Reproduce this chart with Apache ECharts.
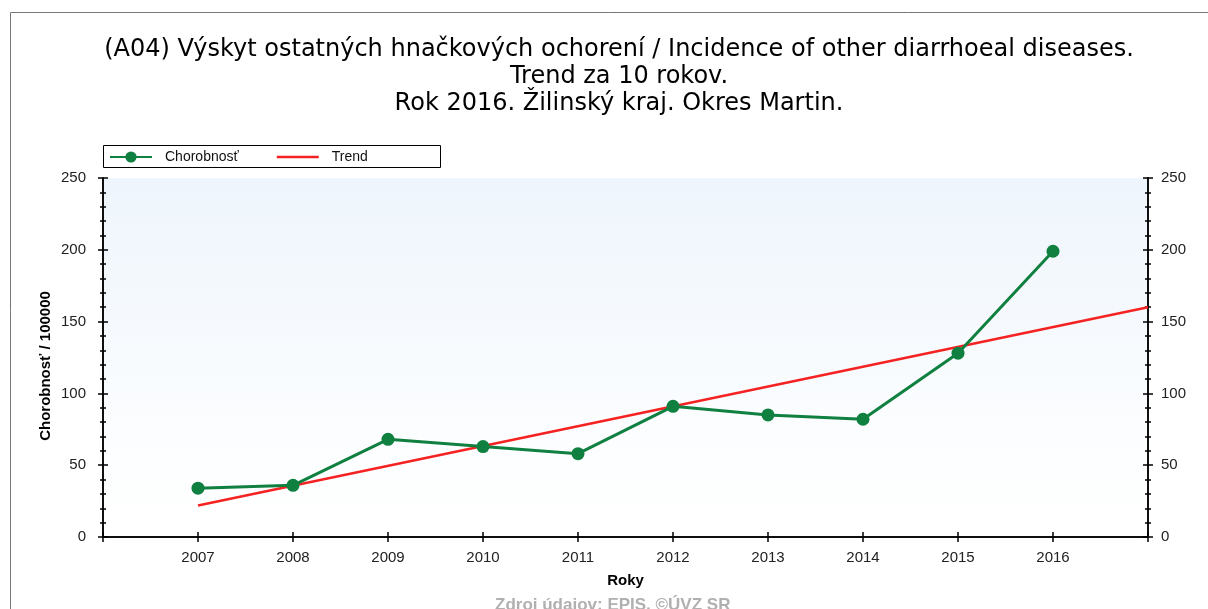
<!DOCTYPE html>
<html>
<head>
<meta charset="utf-8">
<title>A04 Okres Martin</title>
<script src="https://cdn.jsdelivr.net/npm/echarts@6/dist/echarts.min.js"></script>
<style>
  html, body { margin: 0; padding: 0; background: #fff; }
  #chart { width: 1208px; height: 609px; }
</style>
</head>
<body>
<div id="chart"></div>
<script>
// data
var years = [2007, 2008, 2009, 2010, 2011, 2012, 2013, 2014, 2015, 2016];
var chorobnost = [34, 36, 68, 63, 58, 91, 85, 82, 128, 199];
var trendYears = [2007, 2017];
var trendValues = [22, 160];
var yTicks = [0, 50, 100, 150, 200, 250];

var titleLines = [
  '(A04) Výskyt ostatných hnačkových ochorení / Incidence of other diarrhoeal diseases.',
  'Trend za 10 rokov.',
  'Rok 2016. Žilinský kraj. Okres Martin.'
];

var font = 'Arial, "Liberation Sans", sans-serif';
var green = '#0f8040';
var red = '#f52222';

var pairs = function(xs, ys) {
  return xs.map(function(x, i) { return [x, ys[i]]; });
};

var yearLabel = function(v) {
  return (v >= years[0] && v <= years[years.length - 1]) ? String(v) : '';
};

var yAxisBase = function(pos, inside, showLabel) {
  return {
    type: 'value',
    position: pos,
    min: yTicks[0],
    max: yTicks[yTicks.length - 1],
    interval: 50,
    axisLine: { show: true, lineStyle: { color: '#000', width: 1.5 } },
    axisTick: { show: true, inside: inside, length: 5, lineStyle: { color: '#000', width: 1.5 } },
    minorTick: { show: true, splitNumber: 5, length: 3, lineStyle: { color: '#000', width: 1.5 } },
    splitLine: { show: false },
    axisLabel: {
      show: showLabel,
      color: '#222',
      fontFamily: font,
      fontSize: 15,
      margin: pos === 'left' ? 17 : 13,
      align: pos === 'left' ? 'right' : 'left'
    }
  };
};

var chart = echarts.init(document.getElementById('chart'));

var option = {
  backgroundColor: '#fff',
  animation: false,
  title: {
    text: titleLines.join('\n'),
    left: 614,
    textAlign: 'center',
    top: 31,
    textStyle: {
      fontFamily: '"DejaVu Sans", sans-serif',
      fontSize: 24,
      fontWeight: 'normal',
      color: '#000',
      lineHeight: 27
    }
  },
  legend: {
    left: 104,
    top: 145,
    itemWidth: 42,
    itemHeight: 14,
    itemGap: 38,
    data: [
      'Chorobnosť',
      { name: 'Trend', icon: 'path://M0,0L42,0L42,2.5L0,2.5Z' }
    ],
    textStyle: { fontFamily: font, fontSize: 14, color: '#111', padding: [0, 0, 0, 8] }
  },
  grid: {
    left: 103,
    right: 60,
    top: 178,
    bottom: 72,
    show: true,
    borderWidth: 0,
    backgroundColor: new echarts.graphic.LinearGradient(0, 0, 0, 1, [
      { offset: 0, color: '#eef5fc' },
      { offset: 0.8, color: '#fdfeff' },
      { offset: 1, color: '#ffffff' }
    ])
  },
  xAxis: [
    {
      type: 'value',
      position: 'bottom',
      min: 2006,
      max: 2017,
      interval: 1,
      name: 'Roky',
      nameLocation: 'middle',
      nameGap: 36,
      nameTextStyle: { fontFamily: font, fontSize: 15, fontWeight: 'bold', color: '#000' },
      axisLine: { show: true, lineStyle: { color: '#000', width: 1.5 } },
      axisTick: { show: true, length: 5, lineStyle: { color: '#000', width: 1.5 } },
      splitLine: { show: false },
      axisLabel: { formatter: yearLabel, color: '#222', fontFamily: font, fontSize: 15, margin: 13 }
    },
    {
      type: 'value',
      position: 'bottom',
      min: 2006,
      max: 2017,
      interval: 1,
      axisLine: { show: false },
      axisTick: { show: true, inside: true, length: 5, lineStyle: { color: '#000', width: 1.5 } },
      splitLine: { show: false },
      axisLabel: { show: false }
    },
    {
      type: 'value',
      position: 'top',
      min: 2006,
      max: 2017,
      interval: 1,
      axisLine: { show: true, lineStyle: { color: '#000', width: 1.5 } },
      axisTick: { show: true, inside: true, length: 5, lineStyle: { color: '#000', width: 1.5 } },
      splitLine: { show: false },
      axisLabel: { show: false }
    }
  ],
  yAxis: [
    yAxisBase('left', false, true),
    yAxisBase('left', true, false),
    yAxisBase('right', false, true),
    yAxisBase('right', true, false)
  ],
  series: [
    {
      name: 'Chorobnosť',
      type: 'line',
      data: pairs(years, chorobnost),
      symbol: 'circle',
      symbolSize: 13,
      color: green,
      lineStyle: { color: green, width: 3 },
      itemStyle: { color: green },
      z: 3
    },
    {
      name: 'Trend',
      type: 'line',
      data: pairs(trendYears, trendValues),
      symbol: 'none',
      color: red,
      lineStyle: { color: red, width: 2.5 },
      itemStyle: { color: red },
      z: 2
    }
  ],
  graphic: [
    {
      type: 'polyline',
      shape: { points: [[10.5, 609], [10.5, 12.5], [1208, 12.5]] },
      style: { stroke: '#777', lineWidth: 1, fill: null }
    },
    {
      type: 'rect',
      shape: { x: 103.5, y: 145.5, width: 337, height: 22 },
      style: { stroke: '#000', lineWidth: 1, fill: null },
      z: 10
    },
    {
      type: 'text',
      x: 46,
      y: 366,
      rotation: Math.PI / 2,
      style: {
        text: 'Chorobnosť / 100000',
        fontFamily: font,
        fontSize: 15,
        fontWeight: 'bold',
        fill: '#000',
        align: 'center',
        verticalAlign: 'middle'
      }
    },
    {
      type: 'text',
      left: 495,
      top: 597,
      style: {
        text: 'Zdroj údajov: EPIS, ©ÚVZ SR',
        fontFamily: font,
        fontSize: 17,
        fontWeight: 'bold',
        fill: '#b0b0b0'
      }
    }
  ]
};

chart.setOption(option);
</script>
</body>
</html>
